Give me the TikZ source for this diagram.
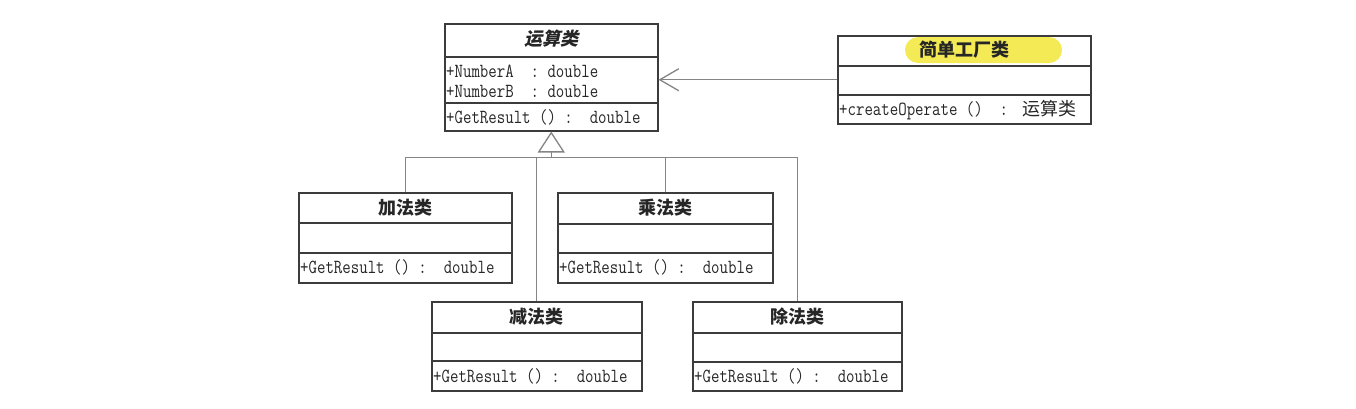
\documentclass[tikz,border=0pt]{standalone}
\usepackage{fontspec}
\setmonofont{Latin Modern Mono}[FakeStretch=0.82]
\newfontfamily\cjk{Noto Sans CJK SC}
\newfontfamily\cjkit{Noto Sans CJK SC}[FakeSlant=0.24]
\usetikzlibrary{arrows.meta}
\definecolor{boxline}{HTML}{3C3C3C}
\definecolor{connline}{HTML}{858585}
\definecolor{hl}{HTML}{F3EA55}
\tikzset{
  cbox/.style={draw=boxline, line width=1.5pt, fill=white, inner sep=0pt, anchor=north west},
  sepline/.style={draw=boxline, line width=1.3pt},
  conn/.style={draw=connline, line width=1.1pt},
  ttl/.style={font=\cjk\bfseries\fontsize{18}{20}\selectfont, inner sep=0pt, text=black!85},
  ttlit/.style={font=\cjkit\bfseries\fontsize{18}{20}\selectfont, inner sep=0pt, text=black!85},
  mem/.style={font=\ttfamily\fontsize{20}{22}\selectfont, inner sep=0pt, anchor=base west, text=black!85},
  memcjk/.style={font=\cjk\fontsize{18}{20}\selectfont, inner sep=0pt, anchor=base west, text=black!85},
}
\begin{document}
\begin{tikzpicture}[x=1pt,y=-1pt]
\useasboundingbox[fill=white] (0,0) rectangle (1356,408);

% class boxes
\node[cbox, minimum width=213pt, minimum height=107pt] (op)  at (444,23)  {};
\node[cbox, minimum width=253pt, minimum height=88pt]  (fac) at (837,35)  {};
\node[cbox, minimum width=213pt, minimum height=90pt]  (add) at (298,192) {};
\node[cbox, minimum width=215pt, minimum height=90pt]  (mul) at (557,192) {};
\node[cbox, minimum width=210pt, minimum height=89pt]  (sub) at (431,301) {};
\node[cbox, minimum width=209pt, minimum height=89pt]  (div) at (692,301) {};

% highlight
\fill[hl, rounded corners=13pt] (905,37) rectangle (1062,63);

% compartment separators
\draw[sepline] (op.west |- 0,57) -- (op.east |- 0,57);
\draw[sepline] (op.west |- 0,103) -- (op.east |- 0,103);
\draw[sepline] (fac.west |- 0,66) -- (fac.east |- 0,66);
\draw[sepline] (fac.west |- 0,95) -- (fac.east |- 0,95);
\draw[sepline] (add.west |- 0,223) -- (add.east |- 0,223);
\draw[sepline] (add.west |- 0,253) -- (add.east |- 0,253);
\draw[sepline] (mul.west |- 0,224) -- (mul.east |- 0,224);
\draw[sepline] (mul.west |- 0,253) -- (mul.east |- 0,253);
\draw[sepline] (sub.west |- 0,333) -- (sub.east |- 0,333);
\draw[sepline] (sub.west |- 0,361) -- (sub.east |- 0,361);
\draw[sepline] (div.west |- 0,333) -- (div.east |- 0,333);
\draw[sepline] (div.west |- 0,362) -- (div.east |- 0,362);

% titles
\node[ttlit] (opT) at (op.north |- 0,39)  {运算类};
\node[ttl] (facT) at (fac.north |- 0,50) {简单工厂类};
\node[ttl] (addT) at (add.north |- 0,208) {加法类};
\node[ttl] (mulT) at (mul.north |- 0,208) {乘法类};
\node[ttl] (subT) at (sub.north |- 0,317) {减法类};
\node[ttl] (divT) at (div.north |- 0,317) {除法类};

% members
\node[mem] (opA) at (446,77)  {+NumberA~~:~double};
\node[mem] (opB) at (446,97)  {+NumberB~~:~double};
\node[mem] (opM) at (446,123) {+GetResult~()~:~~double};
\node[mem] (facM) at (839,115) {+createOperate~()~~:~~};
\node[memcjk] (facC) at (1022,115) {运算类};
\node[mem] (addM) at (300,273) {+GetResult~()~:~~double};
\node[mem] (mulM) at (559,273) {+GetResult~()~:~~double};
\node[mem] (subM) at (433,382) {+GetResult~()~:~~double};
\node[mem] (divM) at (694,382) {+GetResult~()~:~~double};

% association
\draw[conn, -{Straight Barb[length=19pt, width=22pt, line width=1.3pt]}] (fac.west) -- (fac.west -| op.east);

% generalization
\coordinate (bus) at ([yshift=-26pt]op.south);
\draw[conn, -{Triangle[open, length=21pt, width=27pt, line width=1.3pt]}] (bus) -- (op.south);
\draw[conn] (add.north) -- (add.north |- bus) -- (div.north |- bus) -- (div.north);
\draw[conn] (sub.north) -- (sub.north |- bus);
\draw[conn] (mul.north) -- (mul.north |- bus);
\end{tikzpicture}
\end{document}
